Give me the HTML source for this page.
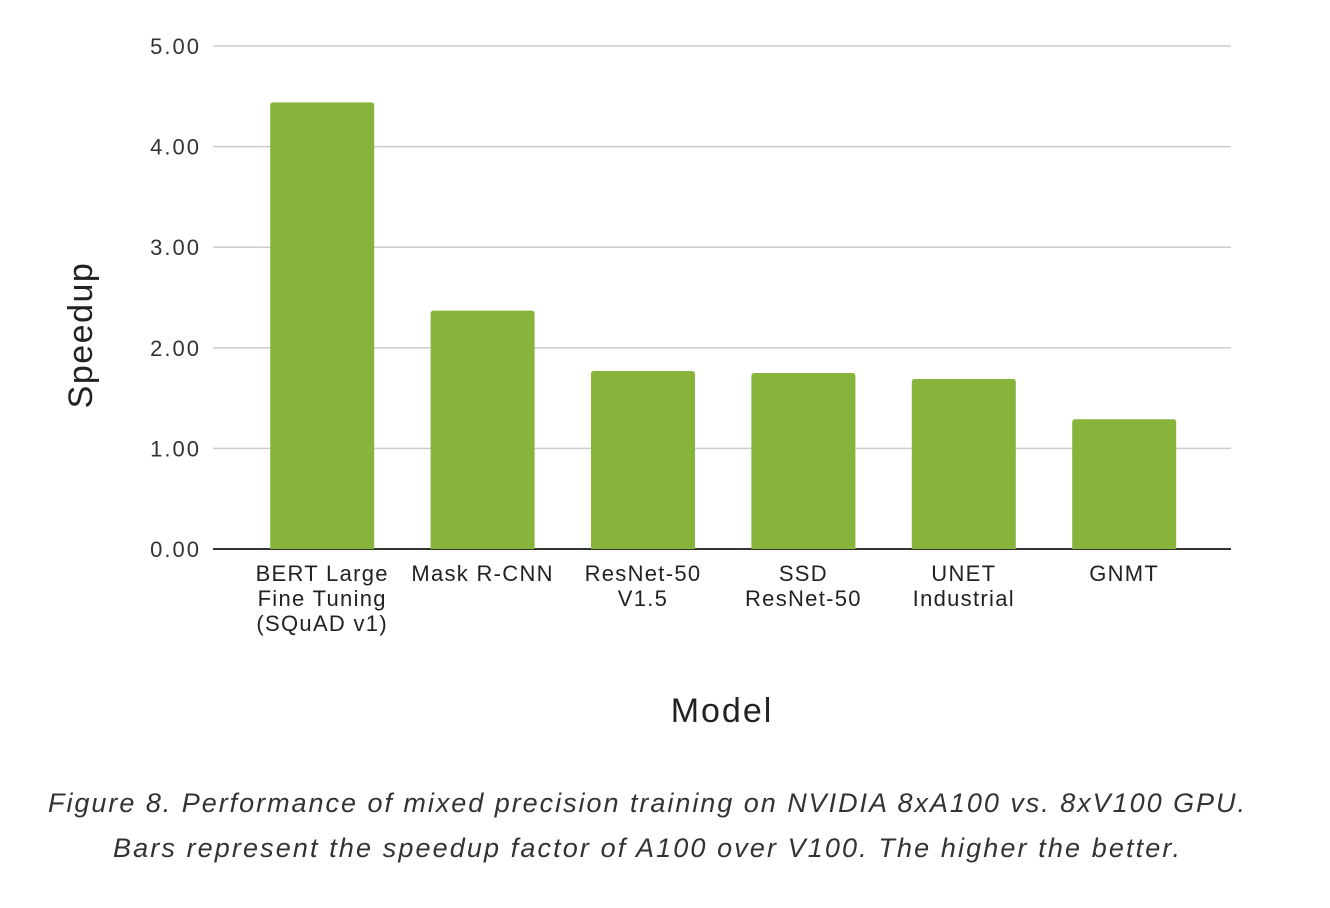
<!DOCTYPE html>
<html><head><meta charset="utf-8"><style>
body{margin:0;background:#fff;width:1330px;height:908px;overflow:hidden;font-family:"Liberation Sans",sans-serif}
svg{position:absolute;left:0;top:0}
</style></head><body>
<svg width="1330" height="908">
<g id="grid"></g><g id="bars"></g><g id="xlabels"></g>
<text x="92" y="335" font-size="34" fill="#222" letter-spacing="1.5" text-anchor="middle" transform="rotate(-90 92 335)">Speedup</text>
<text x="722" y="722" font-size="34" fill="#222" letter-spacing="2" text-anchor="middle">Model</text>
<text x="48" y="812" font-size="27" fill="#333" font-style="italic" textLength="1197" lengthAdjust="spacing">Figure 8. Performance of mixed precision training on NVIDIA 8xA100 vs. 8xV100 GPU.</text>
<text x="113" y="857" font-size="27" fill="#333" font-style="italic" textLength="1067" lengthAdjust="spacing">Bars represent the speedup factor of A100 over V100. The higher the better.</text>
</svg>
<script>
const categories=[["BERT Large","Fine Tuning","(SQuAD v1)"],["Mask R-CNN"],["ResNet-50","V1.5"],["SSD","ResNet-50"],["UNET","Industrial"],["GNMT"]];
const values=[4.44,2.37,1.77,1.75,1.69,1.29];
const ticks=[0,1,2,3,4,5];
const tickLabels=["0.00","1.00","2.00","3.00","4.00","5.00"];
const NS="http://www.w3.org/2000/svg";
const y0=549,pxPer=100.6,left=213,right=1231,bandStart=242,band=160.4,barW=104;
const y=v=>y0-v*pxPer;
function mk(t,a,p){const e=document.createElementNS(NS,t);for(const k in a)e.setAttribute(k,a[k]);document.getElementById(p).appendChild(e);return e;}
ticks.forEach((t,i)=>{
 const l=mk("line",{x1:left,x2:right,y1:y(t),y2:y(t),stroke:t===0?"#333":"#ccc","stroke-width":t===0?2:1.5},"grid");
 
 
 const tx=mk("text",{x:201,y:y(t)+8,"font-size":22,"letter-spacing":2,fill:"#333","text-anchor":"end"},"grid");
 tx.textContent=tickLabels[i];
 
 
});
values.forEach((v,i)=>{
 const cx=bandStart+band*(i+0.5);
 const r=mk("path",{d:`M${cx-barW/2},${y0} V${y(v)+3} Q${cx-barW/2},${y(v)} ${cx-barW/2+3},${y(v)} H${cx+barW/2-3} Q${cx+barW/2},${y(v)} ${cx+barW/2},${y(v)+3} V${y0} Z`,fill:"#87b53b"},"bars");
 
 
 categories[i].forEach((s,j)=>{
  const t=mk("text",{x:cx,y:581+j*25,"font-size":22,"letter-spacing":1.3,fill:"#222","text-anchor":"middle"},"xlabels");
  t.textContent=s;
  
  
 });
});
</script>
</body></html>
